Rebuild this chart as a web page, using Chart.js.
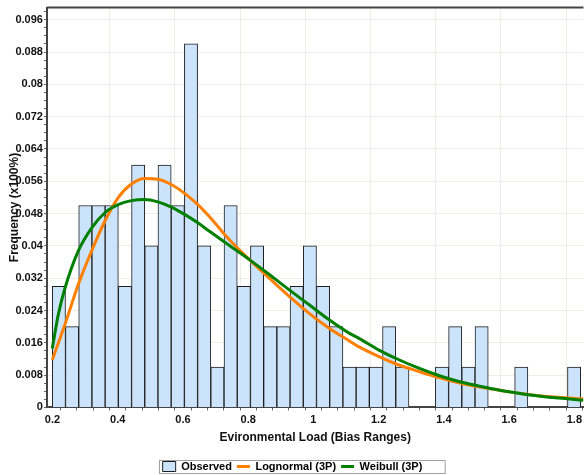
<!DOCTYPE html>
<html>
<head>
<meta charset="utf-8">
<script src="https://cdn.jsdelivr.net/npm/chart.js@4.4.1/dist/chart.umd.min.js"></script>
<style>
  html, body { margin: 0; padding: 0; background: #fff; }
  #wrap { width: 585px; height: 475px; }
</style>
</head>
<body>
<div id="wrap"><canvas id="chart" width="585" height="475"></canvas></div>
<script>
// histogram bins (centre of each bin) and observed frequency
const binCenters = [
    0.2197, 0.2602, 0.3007, 0.3412, 0.3817, 0.4222, 0.4627, 0.5032, 0.5437, 0.5842,
    0.6247, 0.6652, 0.7057, 0.7462, 0.7867, 0.8272, 0.8677, 0.9082, 0.9487, 0.9892,
    1.0297, 1.0702, 1.1107, 1.1512, 1.1917, 1.2322, 1.2727, 1.3132, 1.3537, 1.3942,
    1.4347, 1.4752, 1.5157, 1.5562, 1.5967, 1.6372, 1.6777, 1.7182, 1.7587, 1.7992
];
const observed = [
    0.03, 0.02, 0.05, 0.05, 0.05, 0.03, 0.06, 0.04, 0.06, 0.05,
    0.09, 0.04, 0.01, 0.05, 0.03, 0.04, 0.02, 0.02, 0.03, 0.04,
    0.03, 0.02, 0.01, 0.01, 0.01, 0.02, 0.01, 0, 0, 0.01,
    0.02, 0.01, 0.02, 0, 0, 0.01, 0, 0, 0, 0.01
];

// fitted curves
const curveX = [
    0.1994, 0.2177, 0.2382, 0.2789, 0.3198, 0.3605, 0.4011, 0.4421, 0.4827, 0.5233,
    0.5643, 0.6050, 0.6456, 0.6814, 0.7426, 0.8037, 0.8648, 0.9259, 0.9871, 1.0482,
    1.1093, 1.1399, 1.2010, 1.2622, 1.3233, 1.3845, 1.4456, 1.5067, 1.5678, 1.6289,
    1.6901, 1.7512, 1.8276
];
const lognormal = [
    0.0118, 0.0159, 0.0205, 0.0304, 0.0387, 0.0461, 0.0519, 0.0553, 0.0567, 0.0565,
    0.0552, 0.0530, 0.0502, 0.0472, 0.0415, 0.0366, 0.0320, 0.0275, 0.0233, 0.0196,
    0.0165, 0.0150, 0.0126, 0.0105, 0.0089, 0.0074, 0.0061, 0.0051, 0.0043, 0.0035,
    0.0029, 0.0025, 0.0021
];
const weibull = [
    0.0146, 0.0229, 0.0295, 0.0387, 0.0444, 0.0482, 0.0502, 0.0512, 0.0515, 0.0509,
    0.0496, 0.0478, 0.0457, 0.0436, 0.0401, 0.0366, 0.0329, 0.0291, 0.0254, 0.0217,
    0.0184, 0.0171, 0.0142, 0.0118, 0.0097, 0.0079, 0.0064, 0.0053, 0.0043, 0.0035,
    0.0028, 0.0023, 0.0018
];

// axis tick labels
const xTickValues = [0.2, 0.4, 0.6, 0.8, 1, 1.2, 1.4, 1.6, 1.8];
const xTickLabels = ['0.2', '0.4', '0.6', '0.8', '1', '1.2', '1.4', '1.6', '1.8'];
const yTickValues = [0, 0.008, 0.016, 0.024, 0.032, 0.04, 0.048, 0.056, 0.064, 0.072, 0.08, 0.088, 0.096];
const yTickLabels = ['0', '0.008', '0.016', '0.024', '0.032', '0.04', '0.048', '0.056', '0.064', '0.072', '0.08', '0.088', '0.096'];

const seriesNames = ['Observed', 'Lognormal (3P)', 'Weibull (3P)'];

const barFill = '#cce4fb';
const barLine = '#1e1e1e';
const orange = '#ff8000';
const green = '#008000';
const gridColor = '#efeee6';

function labelFor(values, labels, v) {
    for (let i = 0; i < values.length; i++) {
        if (Math.abs(values[i] - v) < 1e-6) return labels[i];
    }
    return null;
}

function gridFor(values, labels) {
    return c => (c.tick && labelFor(values, labels, c.tick.value)) ? gridColor : 'rgba(0,0,0,0)';
}

// push the legend a little lower than Chart.js puts it
const legendShift = {
    id: 'legendShift',
    afterLayout(chart) {
        const lg = chart.legend;
        lg.top += 9;
        lg.bottom += 9;
    }
};

// dark frame along the top of the plot and a box round the legend
const framePlugin = {
    id: 'frame',
    afterDraw(chart) {
        const ctx = chart.ctx;
        const a = chart.chartArea;
        ctx.save();
        ctx.strokeStyle = '#444';
        ctx.lineWidth = 2;
        ctx.beginPath();
        ctx.moveTo(a.left, a.top);
        ctx.lineTo(a.right, a.top);
        ctx.stroke();

        const boxes = chart.legend.legendHitBoxes;
        if (boxes && boxes.length) {
            let l = Infinity, r = -Infinity, t = Infinity, b = -Infinity;
            boxes.forEach(h => {
                l = Math.min(l, h.left);
                r = Math.max(r, h.left + h.width);
                t = Math.min(t, h.top);
                b = Math.max(b, h.top + h.height);
            });
            const mid = (t + b) / 2;
            ctx.strokeStyle = '#a0a0a0';
            ctx.lineWidth = 1;
            ctx.strokeRect(Math.round(l) - 3.5, Math.round(mid) - 6.5, r - l + 26, 13);
        }
        ctx.restore();
    }
};

Chart.defaults.font.family = "'Liberation Sans', Arial, sans-serif";
Chart.defaults.font.weight = 'bold';
Chart.defaults.color = '#111';

new Chart(document.getElementById('chart').getContext('2d'), {
    data: {
        datasets: [
            {
                type: 'bar',
                label: seriesNames[0],
                data: binCenters.map((x, i) => ({ x: x, y: observed[i] })),
                backgroundColor: barFill,
                borderColor: barLine,
                borderWidth: 1,
                barPercentage: 1,
                categoryPercentage: 1,
                order: 2
            },
            {
                type: 'line',
                label: seriesNames[1],
                data: curveX.map((x, i) => ({ x: x, y: lognormal[i] })),
                borderColor: orange,
                borderWidth: 3,
                pointRadius: 0,
                fill: false,
                cubicInterpolationMode: 'monotone',
                order: 1
            },
            {
                type: 'line',
                label: seriesNames[2],
                data: curveX.map((x, i) => ({ x: x, y: weibull[i] })),
                borderColor: green,
                borderWidth: 3,
                pointRadius: 0,
                fill: false,
                cubicInterpolationMode: 'monotone',
                order: 0
            }
        ]
    },
    options: {
        responsive: false,
        animation: false,
        layout: { padding: { top: 6, right: 0, left: 0, bottom: 2 } },
        plugins: {
            tooltip: { enabled: false },
            legend: {
                position: 'bottom',
                labels: {
                    usePointStyle: true,
                    pointStyleWidth: 13,
                    boxHeight: 10,
                    padding: 5,
                    font: { size: 11, weight: 'bold' },
                    color: '#111',
                    generateLabels: () => [
                        { text: seriesNames[0], fillStyle: barFill, strokeStyle: barLine, lineWidth: 1, pointStyle: 'rect', datasetIndex: 0 },
                        { text: seriesNames[1], fillStyle: orange, strokeStyle: orange, lineWidth: 3, pointStyle: 'line', datasetIndex: 1 },
                        { text: seriesNames[2], fillStyle: green, strokeStyle: green, lineWidth: 3, pointStyle: 'line', datasetIndex: 2 }
                    ]
                }
            }
        },
        scales: {
            x: {
                type: 'linear',
                min: 0.183,
                max: 1.828,
                offset: false,
                ticks: {
                    stepSize: 0.05,
                    includeBounds: false,
                    autoSkip: false,
                    maxRotation: 0,
                    padding: 3,
                    font: { size: 11, weight: 'bold' },
                    color: '#111',
                    callback: v => labelFor(xTickValues, xTickLabels, v) || ''
                },
                grid: {
                    color: gridFor(xTickValues, xTickLabels),
                    tickColor: '#666',
                    tickLength: 3
                },
                border: { display: true, color: '#444', width: 2 },
                title: {
                    display: true,
                    text: 'Evironmental Load (Bias Ranges)',
                    font: { size: 12, weight: 'bold' },
                    color: '#111',
                    padding: { top: 1, bottom: 2 }
                }
            },
            y: {
                type: 'linear',
                min: 0,
                max: 0.099,
                ticks: {
                    stepSize: 0.002,
                    includeBounds: false,
                    autoSkip: false,
                    padding: 1,
                    font: { size: 11, weight: 'bold' },
                    color: '#111',
                    callback: v => labelFor(yTickValues, yTickLabels, v) || ''
                },
                grid: {
                    color: gridFor(yTickValues, yTickLabels),
                    tickColor: '#666',
                    tickLength: 3
                },
                border: { display: true, color: '#444', width: 2 },
                title: {
                    display: true,
                    text: 'Frequency (x100%)',
                    font: { size: 12, weight: 'bold' },
                    color: '#111',
                    padding: { top: 7, bottom: -7 }
                }
            }
        }
    },
    plugins: [legendShift, framePlugin]
});
</script>
</body>
</html>
